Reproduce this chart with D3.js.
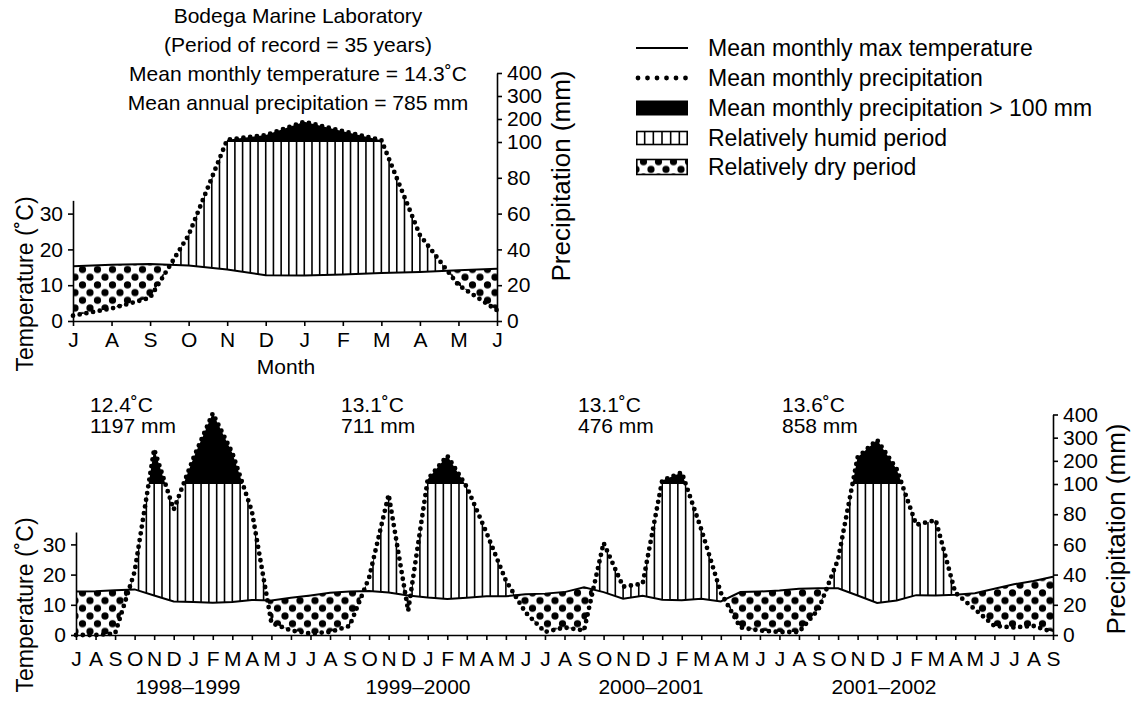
<!DOCTYPE html>
<html>
<head>
<meta charset="utf-8">
<script src="https://cdn.jsdelivr.net/npm/d3@7"></script>
<style>
  body { margin: 0; background: #fff; }
  svg text { font-family: "Liberation Sans", Arial, sans-serif; fill: #000; }
</style>
</head>
<body>
<svg id="chart" width="1133" height="702"></svg>
<script>
// ---- data ----
const topMonths = ["J", "A", "S", "O", "N", "D", "J", "F", "M", "A", "M", "J"];
const topTemp = [15.3, 15.7, 15.9, 15.5, 14.4, 12.8, 12.7, 13.0, 13.4, 13.7, 14.2, 14.6];
const topPrecip = [3, 7, 13, 48, 110, 130, 188, 147, 108, 48, 20, 6];

const bottomMonths = [
  "J", "A", "S", "O", "N", "D", "J", "F", "M", "A", "M", "J",
  "J", "A", "S", "O", "N", "D", "J", "F", "M", "A", "M", "J",
  "J", "A", "S", "O", "N", "D", "J", "F", "M", "A", "M", "J",
  "J", "A", "S", "O", "N", "D", "J", "F", "M", "A", "M", "J",
  "J", "A", "S"
];
const bottomTemp = [
  14.4, 14.5, 14.8, 15.1, 13.1, 11.1, 10.9, 10.7, 10.9, 11.6, 11.4, 12.3,
  13.1, 14.0, 14.4, 14.6, 14.1, 13.1, 12.4, 11.9, 12.3, 12.8, 12.8, 13.5,
  13.7, 14.2, 15.8, 14.2, 12.0, 13.0, 11.7, 11.5, 12.0, 11.1, 14.2, 14.4,
  14.7, 15.3, 15.5, 15.5, 13.1, 10.6, 11.4, 13.2, 13.1, 13.3, 13.8, 15.3,
  16.8, 17.9, 19.3
];
const bottomPrecip = [
  0, 0, 1, 42, 250, 83, 210, 405, 234, 82, 8, 3,
  1, 2, 6, 38, 93, 16, 120, 222, 98, 68, 36, 15,
  2, 5, 3, 61, 32, 34, 115, 150, 70, 28, 5, 3,
  2, 2, 17, 50, 215, 290, 164, 73, 76, 28, 17, 6,
  5, 6, 2
];

const titleLines = [
  "Bodega Marine Laboratory",
  "(Period of record = 35 years)",
  "Mean monthly temperature = 14.3˚C",
  "Mean annual precipitation = 785 mm"
];
const yearLabels = ["1998–1999", "1999–2000", "2000–2001", "2001–2002"];
const yearTemps = ["12.4˚C", "13.1˚C", "13.1˚C", "13.6˚C"];
const yearPrecip = ["1197 mm", "711 mm", "476 mm", "858 mm"];
const tempTicks = [0, 10, 20, 30];
const precipTicks = [0, 20, 40, 60, 80, 100, 200, 300, 400];
const legendLabels = [
  "Mean monthly max temperature",
  "Mean monthly precipitation",
  "Mean monthly precipitation > 100 mm",
  "Relatively humid period",
  "Relatively dry period"
];

// ---- drawing ----
const svg = d3.select("#chart");
const defs = svg.append("defs");

// dot fill for the dry period
const dots = defs.append("pattern")
  .attr("id", "dots")
  .attr("patternUnits", "userSpaceOnUse")
  .attr("width", 15)
  .attr("height", 15.4);
[[0, 0], [15, 0], [0, 15.4], [15, 15.4], [7.5, 7.7]].forEach(p => {
  dots.append("circle").attr("cx", p[0]).attr("cy", p[1]).attr("r", 3.6).attr("fill", "#000");
});

function drawDiagram(o) {
  const n = o.months.length;
  const idx = d3.range(n);
  const x = d3.scaleLinear().domain([0, n - 1]).range([o.left, o.right]);
  const yP = d3.scaleLinear().domain([0, 100, 400]).range([o.y0, o.y100, o.y400]);
  // 10 degC corresponds to 20 mm
  const yT = d3.scaleLinear().domain([0, 50]).range([o.y0, o.y100]);
  const tY = i => yT(o.temp[i]);
  const pY = i => yP(o.precip[i]);

  const g = svg.append("g");

  // clip paths
  defs.append("clipPath").attr("id", o.id + "-above")
    .append("path").attr("d", d3.area().x(d => x(d)).y0(0).y1(tY)(idx));
  defs.append("clipPath").attr("id", o.id + "-below")
    .append("path").attr("d", d3.area().x(d => x(d)).y0(tY).y1(o.y0 + 2)(idx));
  defs.append("clipPath").attr("id", o.id + "-between")
    .append("path").attr("d", d3.area().x(d => x(d)).y0(tY).y1(pY)(idx));
  defs.append("clipPath").attr("id", o.id + "-under100")
    .append("rect").attr("x", o.left).attr("y", o.y100).attr("width", o.right - o.left).attr("height", o.y0 - o.y100);
  defs.append("clipPath").attr("id", o.id + "-over100")
    .append("rect").attr("x", o.left).attr("y", 0).attr("width", o.right - o.left).attr("height", o.y100);

  // humid period: vertical hatching
  const hatch = g.append("g").attr("clip-path", `url(#${o.id}-above)`)
    .append("g").attr("clip-path", `url(#${o.id}-under100)`)
    .append("g").attr("clip-path", `url(#${o.id}-between)`);
  hatch.selectAll("line")
    .data(d3.range(0, n - 1 + 1e-6, o.hatchStep))
    .join("line")
    .attr("x1", d => x(d)).attr("x2", d => x(d))
    .attr("y1", o.y100).attr("y2", o.y0)
    .attr("stroke", "#000")
    .attr("stroke-width", 1.6);

  // dry period: dots
  g.append("g").attr("clip-path", `url(#${o.id}-below)`)
    .append("path")
    .attr("d", d3.area().x(d => x(d)).y0(tY).y1(pY)(idx))
    .attr("fill", "url(#dots)");

  // precipitation above 100 mm: solid black (base sits a little under the clip edge)
  g.append("g").attr("clip-path", `url(#${o.id}-over100)`)
    .append("path")
    .attr("d", d3.area().x(d => x(d)).y0(o.y100 + 3).y1(pY)(idx))
    .attr("fill", "#000");

  // temperature line
  g.append("path")
    .attr("d", d3.line().x(d => x(d)).y(tY)(idx))
    .attr("fill", "none")
    .attr("stroke", "#000")
    .attr("stroke-width", 2);

  // precipitation dotted line
  g.append("path")
    .attr("d", d3.line().x(d => x(d)).y(pY)(idx))
    .attr("fill", "none")
    .attr("stroke", "#000")
    .attr("stroke-width", 4.8)
    .attr("stroke-linecap", "round")
    .attr("stroke-dasharray", "0 6.8");

  // axes
  const tAxisScale = yT.copy().domain([0, o.tMax]).range([yT(0), yT(o.tMax)]);
  const leftAxis = g.append("g")
    .attr("transform", `translate(${o.left},0)`)
    .call(d3.axisLeft(tAxisScale).tickValues(tempTicks).tickSize(5).tickSizeOuter(0).tickPadding(5));

  const rightAxis = g.append("g")
    .attr("transform", `translate(${o.right},0)`)
    .call(d3.axisRight(yP).tickValues(precipTicks).tickSize(5).tickSizeOuter(0).tickPadding(5));

  const xAxis = g.append("g")
    .attr("transform", `translate(0,${o.y0})`)
    .call(d3.axisBottom(x).tickValues(idx).tickFormat(i => o.months[i])
      .tickSize(5).tickSizeOuter(0).tickPadding(o.labelPad));

  [leftAxis, rightAxis, xAxis].forEach(a => {
    a.selectAll("path, line").attr("stroke", "#000").attr("stroke-width", 1.6);
    a.selectAll("text").attr("font-size", 21).attr("font-family", null).attr("fill", "#000");
  });

  // axis titles
  g.append("text")
    .attr("transform", `translate(${o.tempTitleX},${o.tempTitleY}) rotate(-90)`)
    .attr("text-anchor", "middle").attr("dy", "0.35em")
    .attr("font-size", 23)
    .text("Temperature (˚C)");
  g.append("text")
    .attr("transform", `translate(${o.precTitleX},${o.precTitleY}) rotate(-90)`)
    .attr("text-anchor", "middle").attr("dy", "0.35em")
    .attr("font-size", 26)
    .text("Precipitation (mm)");

  return x;
}

// long-term mean diagram
drawDiagram({
  id: "top", months: topMonths, temp: topTemp, precip: topPrecip,
  left: 73, right: 497, y0: 321, y100: 142, y400: 73,
  tMax: 33.7, hatchStep: 0.2, labelPad: 6.5,
  tempTitleX: 25, tempTitleY: 284, precTitleX: 561, precTitleY: 176
});

// four individual years
drawDiagram({
  id: "bot", months: bottomMonths, temp: bottomTemp, precip: bottomPrecip,
  left: 76, right: 1053, y0: 635, y100: 484, y400: 414.5,
  tMax: 34.1, hatchStep: 0.4, labelPad: 11.5,
  tempTitleX: 25, tempTitleY: 605, precTitleX: 1116, precTitleY: 529
});

// titles
svg.append("g").selectAll("text")
  .data(titleLines)
  .join("text")
  .attr("x", 298)
  .attr("y", (d, i) => 23 + i * 29)
  .attr("text-anchor", "middle")
  .attr("font-size", 21)
  .text(d => d);

svg.append("text")
  .attr("x", 286).attr("y", 374)
  .attr("text-anchor", "middle")
  .attr("font-size", 21)
  .text("Month");

// year annotations
const annX = [90, 341, 578, 782];
const yearX = [188, 418, 651, 884];
annX.forEach((ax, i) => {
  svg.append("text").attr("x", ax).attr("y", 412).attr("font-size", 21).text(yearTemps[i]);
  svg.append("text").attr("x", ax).attr("y", 433).attr("font-size", 21).text(yearPrecip[i]);
  svg.append("text").attr("x", yearX[i]).attr("y", 694).attr("text-anchor", "middle")
    .attr("font-size", 21).text(yearLabels[i]);
});

// legend
const legend = svg.append("g").attr("transform", "translate(636,0)");
const rowY = [48, 78, 108, 138, 167];
const symW = 52;
legend.append("line").attr("x1", 0).attr("x2", symW).attr("y1", rowY[0]).attr("y2", rowY[0])
  .attr("stroke", "#000").attr("stroke-width", 2);
legend.append("line").attr("x1", 2).attr("x2", symW).attr("y1", rowY[1]).attr("y2", rowY[1])
  .attr("stroke", "#000").attr("stroke-width", 4.8).attr("stroke-linecap", "round")
  .attr("stroke-dasharray", "0 9.5");
legend.append("rect").attr("x", 0).attr("y", rowY[2] - 7.5).attr("width", symW).attr("height", 15)
  .attr("fill", "#000");
legend.append("rect").attr("x", 0.8).attr("y", rowY[3] - 6.5).attr("width", symW - 1.6).attr("height", 13)
  .attr("fill", "#fff").attr("stroke", "#000").attr("stroke-width", 1.6);
legend.selectAll(".hl").data(d3.range(1, 6)).join("line")
  .attr("x1", d => d * symW / 6).attr("x2", d => d * symW / 6)
  .attr("y1", rowY[3] - 6.5).attr("y2", rowY[3] + 6.5)
  .attr("stroke", "#000").attr("stroke-width", 1.6);
legend.append("rect").attr("x", 0.8).attr("y", rowY[4] - 7.5).attr("width", symW - 1.6).attr("height", 15)
  .attr("fill", "url(#dots)").attr("stroke", "#000").attr("stroke-width", 1.6);
legend.selectAll(".lt").data(legendLabels).join("text")
  .attr("x", 72).attr("y", (d, i) => rowY[i]).attr("dy", "0.35em")
  .attr("font-size", 23)
  .text(d => d);
</script>
</body>
</html>
